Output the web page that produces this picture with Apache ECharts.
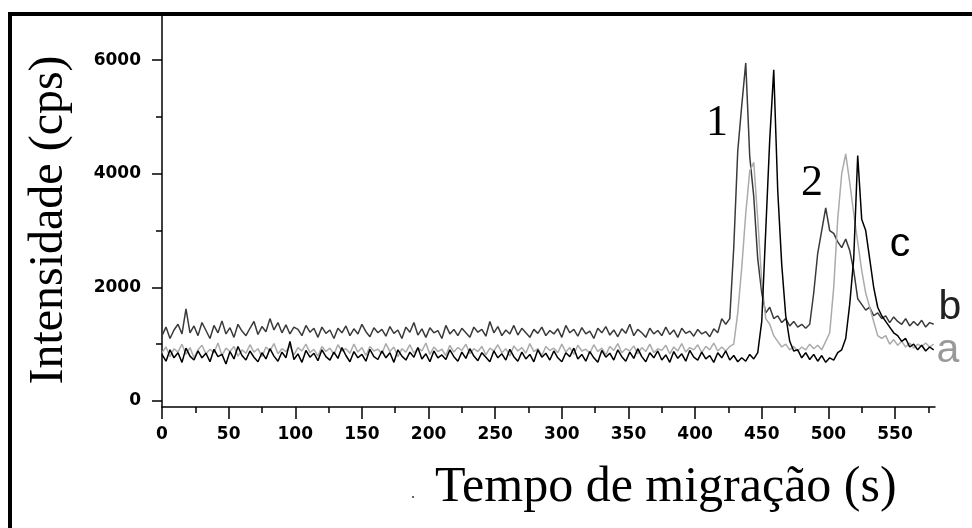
<!DOCTYPE html>
<html><head><meta charset="utf-8">
<script src="https://cdn.jsdelivr.net/npm/echarts@6/dist/echarts.min.js"></script>
<style>html,body{margin:0;padding:0;background:#fff}#c{width:972px;height:528px}</style>
</head><body><div id="c"></div>
<script>
// sampling grid of the traces (s)
const tStart = 0, tStep = 3;

// trace b (dark gray)
const traceB = [
 1150,1300,1100,1250,1350,1180,1620,1200,1320,1150,
 1380,1240,1100,1330,1200,1410,1180,1290,1120,1350,
 1230,1150,1280,1400,1170,1310,1220,1450,1250,1380,
 1200,1340,1180,1300,1260,1150,1330,1210,1280,1120,
 1300,1190,1250,1100,1280,1200,1320,1150,1270,1180,
 1350,1220,1130,1290,1200,1260,1140,1310,1190,1250,
 1100,1300,1210,1380,1160,1270,1120,1290,1200,1240,
 1100,1330,1180,1260,1150,1280,1200,1120,1300,1210,
 1260,1140,1400,1200,1310,1150,1250,1180,1330,1160,
 1280,1200,1120,1260,1190,1300,1150,1240,1180,1270,
 1120,1330,1200,1260,1140,1290,1180,1230,1100,1280,
 1200,1310,1160,1250,1130,1270,1190,1350,1150,1260,
 1200,1120,1280,1180,1240,1150,1300,1170,1250,1120,
 1280,1190,1230,1140,1260,1180,1220,1130,1270,1200,
 1450,1350,1450,2700,4400,5200,5950,4300,3600,2500,
 1900,1550,1650,1450,1500,1380,1450,1320,1400,1300,
 1350,1280,1350,1900,2600,3000,3400,3000,2950,2800,
 2700,2850,2650,2300,1800,1700,1600,1650,1500,1550,
 1450,1500,1380,1480,1400,1350,1450,1320,1400,1330,
 1420,1300,1380,1350
];
// trace a (light gray)
const traceA = [
 850,950,780,920,860,1000,820,940,760,900,
 980,830,910,850,1020,800,930,870,960,790,
 900,840,990,860,920,780,950,880,1010,830,
 920,870,970,810,940,880,1000,850,910,790,
 960,870,930,820,990,880,920,840,1000,860,
 940,800,960,880,910,830,1010,870,950,780,
 920,860,990,840,930,880,1020,820,950,870,
 910,800,980,860,940,890,1000,830,920,870,
 960,810,930,880,990,850,920,790,970,880,
 940,840,1010,870,920,800,960,890,930,850,
 1000,860,940,820,980,880,910,840,990,870,
 930,810,960,890,1010,850,920,880,970,830,
 940,870,1000,850,920,890,980,830,950,880,
 1010,860,940,900,990,850,960,900,1020,880,
 950,880,960,1000,1550,2350,3300,4050,4200,3200,
 2100,1450,1350,1150,1050,950,1000,900,960,880,
 950,900,1000,920,980,900,1050,1200,2000,3200,
 4000,4350,3850,3300,2800,2300,1900,1650,1400,1150,
 1100,1150,1000,1080,980,1050,950,1020,930,1000,
 960,1020,950,1000
];
// trace c (black)
const traceC = [
 820,700,900,760,850,680,930,790,720,880,
 760,840,690,910,780,820,650,870,740,960,
 800,720,880,770,690,850,740,920,790,700,
 860,760,1050,730,830,680,890,770,840,710,
 900,780,720,860,750,940,800,690,870,760,
 820,700,910,780,730,880,760,850,680,900,
 790,720,860,770,940,740,830,690,880,760,
 810,730,900,780,700,860,750,920,790,710,
 850,770,690,880,760,830,720,910,780,700,
 860,740,820,690,900,770,840,720,880,760,
 690,850,780,930,740,820,700,870,760,680,
 890,770,840,720,900,780,700,860,750,920,
 780,690,850,760,880,720,810,680,870,750,
 830,700,890,770,720,860,740,800,680,850,
 760,880,720,800,690,760,700,820,740,850,
 1400,3000,4600,5830,3700,2400,1500,1050,880,900,
 760,850,730,820,700,800,680,760,720,850,
 900,1100,1700,2500,4320,3200,3000,2500,2000,1650,
 1500,1400,1300,1200,1150,1050,1100,950,1000,900,
 980,880,950,900
];

const xMajorTicks = [0,50,100,150,200,250,300,350,400,450,500,550];
const xMinorTicks = [25,75,125,175,225,275,325,375,425,475,525,575];
const yMajorTicks = [0,2000,4000,6000];
const yMinorTicks = [1000,3000,5000];

function pairs(vals){ return vals.map((v,i)=>[tStart + i*tStep, v]); }

const chart = echarts.init(document.getElementById('c'), null, {renderer:'canvas'});
const labelFont = {fontFamily:'DejaVu Sans', fontWeight:'bold', fontSize:17, color:'#000'};
const axisLineStyle = {color:'#000', width:1.5};

chart.setOption({
  animation:false,
  backgroundColor:'#fff',
  grid:{left:162, right:37, top:16, bottom:121, containLabel:false, outerBoundsMode:'none'},
  xAxis:[
    {type:'value', position:'bottom', min:0, max:580,
     axisLine:{show:true, onZero:false, lineStyle:axisLineStyle},
     axisTick:{show:true, inside:false, length:12, customValues:xMajorTicks, lineStyle:axisLineStyle},
     axisLabel:{show:true, margin:19, customValues:xMajorTicks, formatter:v=>String(v), ...labelFont},
     splitLine:{show:false}},
    {type:'value', position:'bottom', min:0, max:580,
     axisLine:{show:false, onZero:false},
     axisTick:{show:true, inside:false, length:6, customValues:xMinorTicks, lineStyle:axisLineStyle},
     axisLabel:{show:false}, splitLine:{show:false}}
  ],
  yAxis:[
    {type:'value', position:'left', min:-106, max:6776,
     axisLine:{show:true, onZero:false, lineStyle:axisLineStyle},
     axisTick:{show:true, inside:false, length:10, customValues:yMajorTicks, lineStyle:axisLineStyle},
     axisLabel:{show:true, margin:21, customValues:yMajorTicks, formatter:v=>String(v), ...labelFont},
     splitLine:{show:false}},
    {type:'value', position:'left', min:-106, max:6776,
     axisLine:{show:false, onZero:false},
     axisTick:{show:true, inside:false, length:6, customValues:yMinorTicks, lineStyle:axisLineStyle},
     axisLabel:{show:false}, splitLine:{show:false}}
  ],
  series:[
    {name:'b', type:'line', xAxisIndex:0, yAxisIndex:0, data:pairs(traceB), showSymbol:false,
     lineStyle:{color:'#3a3a3a', width:1.5}, itemStyle:{color:'#3a3a3a'}, z:2},
    {name:'a', type:'line', xAxisIndex:0, yAxisIndex:0, data:pairs(traceA), showSymbol:false,
     lineStyle:{color:'#ababab', width:1.5}, itemStyle:{color:'#ababab'}, z:3},
    {name:'c', type:'line', xAxisIndex:0, yAxisIndex:0, data:pairs(traceC), showSymbol:false,
     lineStyle:{color:'#000000', width:1.5}, itemStyle:{color:'#000'}, z:4}
  ],
  graphic:[
    {type:'rect', shape:{x:10, y:14, width:1000, height:1000}, style:{fill:'none', stroke:'#000', lineWidth:4}, z:10},
    {type:'text', x:49, y:220, rotation:Math.PI/2,
     style:{text:'Intensidade (cps)', font:'48px "Liberation Serif"', fill:'#000', align:'center', verticalAlign:'middle', textAlign:'center', textVerticalAlign:'middle'}},
    {type:'text', x:435, y:488,
     style:{text:'Tempo de migração (s)', font:'50px "Liberation Serif"', fill:'#000', align:'left', verticalAlign:'middle', textAlign:'left', textVerticalAlign:'middle'}},
    {type:'circle', shape:{cx:413, cy:497, r:1}, style:{fill:'#333'}},
    {type:'text', x:717, y:123,
     style:{text:'1', font:'44px "Liberation Serif"', fill:'#000', align:'center', verticalAlign:'middle', textAlign:'center', textVerticalAlign:'middle'}},
    {type:'text', x:812, y:183,
     style:{text:'2', font:'44px "Liberation Serif"', fill:'#000', align:'center', verticalAlign:'middle', textAlign:'center', textVerticalAlign:'middle'}},
    {type:'text', x:900, y:245,
     style:{text:'c', font:'41px "Liberation Sans"', fill:'#000', align:'center', verticalAlign:'middle', textAlign:'center', textVerticalAlign:'middle'}},
    {type:'text', x:950, y:308,
     style:{text:'b', font:'41px "Liberation Sans"', fill:'#222', align:'center', verticalAlign:'middle', textAlign:'center', textVerticalAlign:'middle'}},
    {type:'text', x:948, y:351,
     style:{text:'a', font:'41px "Liberation Sans"', fill:'#999', align:'center', verticalAlign:'middle', textAlign:'center', textVerticalAlign:'middle'}}
  ]
});
</script>
</body></html>
